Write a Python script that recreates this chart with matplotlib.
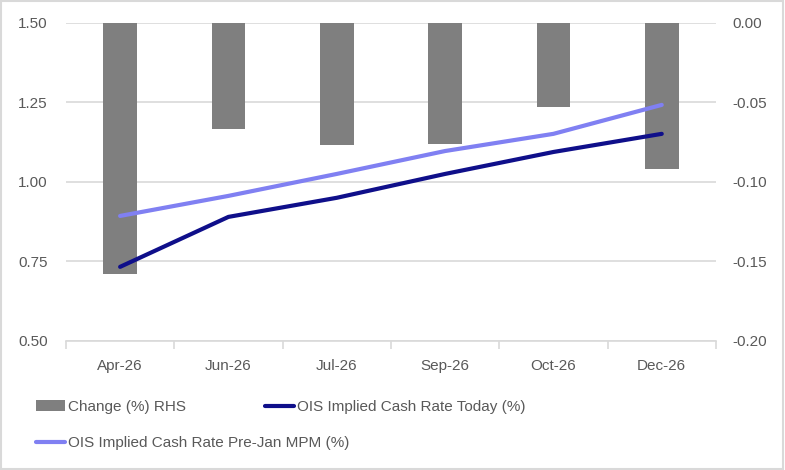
import matplotlib
matplotlib.use('Agg')
import matplotlib.pyplot as plt
import numpy as np
from matplotlib.patches import Rectangle

# data
months = ['Apr-26', 'Jun-26', 'Jul-26', 'Sep-26', 'Oct-26', 'Dec-26']
change_rhs = [-0.158, -0.067, -0.077, -0.076, -0.053, -0.092]
ois_today = [0.733, 0.890, 0.950, 1.025, 1.094, 1.151]
ois_pre_jan = [0.893, 0.956, 1.025, 1.097, 1.151, 1.242]

plt.rcParams['font.family'] = ['Liberation Sans', 'DejaVu Sans']
text_col = '#595959'
grid_col = '#D9D9D9'

fig = plt.figure(figsize=(7.85, 4.70), dpi=100)
ax = fig.add_axes([0.084, 0.2745, 0.828, 0.677])

x = np.arange(len(months))

# bars on the primary axis (drawn first), shown with the right-hand scale
bars = ax.bar(x, change_rhs, width=0.31, color='#7F7F7F', zorder=2)
ax.set_ylim(-0.20, 0.0)
ax.set_yticks([0.0, -0.05, -0.10, -0.15, -0.20])
ax.yaxis.set_major_formatter(matplotlib.ticker.FormatStrFormatter('%.2f'))
ax.grid(axis='y', color=grid_col, linewidth=1.2, zorder=0)
ax.set_axisbelow(True)
ax.set_xlim(-0.5, len(months) - 0.5)

# lines on the twin axis, shown with the left-hand scale
ax2 = ax.twinx()
l_today, = ax2.plot(x, ois_today, color='#0F0F8A', lw=3, solid_capstyle='round', zorder=3)
l_pre, = ax2.plot(x, ois_pre_jan, color='#8080F2', lw=3, solid_capstyle='round', zorder=3)
ax2.set_ylim(0.5, 1.5)
ax2.set_yticks([0.5, 0.75, 1.0, 1.25, 1.5])
ax2.yaxis.set_major_formatter(matplotlib.ticker.FormatStrFormatter('%.2f'))

# swap sides: twinx resets the primary to the left
ax.yaxis.tick_right()
ax2.yaxis.tick_left()

for a in (ax, ax2):
    for s in ['top', 'left', 'right']:
        a.spines[s].set_visible(False)
    a.spines['bottom'].set_color(grid_col)
    a.spines['bottom'].set_linewidth(1.2)
    a.tick_params(axis='y', length=0, labelsize=11, labelcolor=text_col)
ax2.spines['bottom'].set_visible(False)
ax.tick_params(axis='y', pad=11.5)
ax2.tick_params(axis='y', pad=13)

ax.set_xticks(x)
ax.set_xticklabels(months)
ax.set_xticks(np.arange(-0.5, len(months)), minor=True)
ax.tick_params(axis='x', which='major', length=0, labelsize=11, labelcolor=text_col, pad=13)
ax.tick_params(axis='x', which='minor', length=6, color=grid_col, width=1.2)

# legend entries placed like the original layout
entries = [
    (bars, 'Change (%) RHS', 36, 407),
    (l_today, 'OIS Implied Cash Rate Today (%)', 265, 407),
    (l_pre, 'OIS Implied Cash Rate Pre-Jan MPM (%)', 36, 443),
]
for h, lab, px, py in entries:
    lg = fig.legend([h], [lab], loc='center left', bbox_to_anchor=(px / 785, 1 - py / 470),
                    frameon=False, fontsize=11, handlelength=1.9, handletextpad=0.2,
                    borderpad=0, borderaxespad=0)
    for t in lg.get_texts():
        t.set_color(text_col)

# light border round the chart
fig.patches.append(Rectangle((0.001, 0.002), 0.997, 0.996, transform=fig.transFigure,
                             fill=False, edgecolor=grid_col, linewidth=1.5))

fig.savefig('out.png', dpi=100)
